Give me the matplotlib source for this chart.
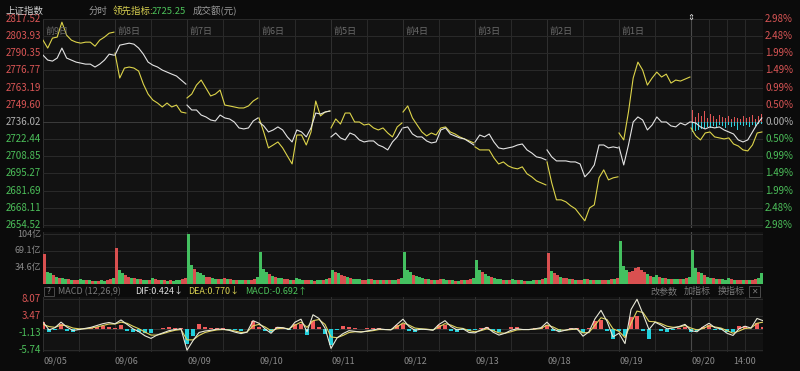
import numpy as np
import matplotlib
matplotlib.use("Agg")
import matplotlib.pyplot as plt

plt.rcParams['font.family'] = ['Noto Sans CJK SC', 'DejaVu Sans']

# ---- data ----
dates = ["09/05", "09/06", "09/09", "09/10", "09/11", "09/12", "09/13", "09/18", "09/19", "09/20"]
day_tags = ["前9日", "前8日", "前7日", "前6日", "前5日", "前4日", "前3日", "前2日", "前1日"]

price_ticks = [2817.52, 2803.93, 2790.35, 2776.77, 2763.19, 2749.60, 2736.02,
               2722.44, 2708.85, 2695.27, 2681.69, 2668.11, 2654.52]
pct_ticks = ["2.98%", "2.48%", "1.99%", "1.49%", "0.99%", "0.50%", "0.00%",
             "0.50%", "0.99%", "1.49%", "1.99%", "2.48%", "2.98%"]
base_price = 2736.02

# 上证指数 (white), 16 samples per day
index_line = [
    [2788.9, 2785.0, 2784.2, 2786.6, 2794.5, 2786.6, 2785.0, 2783.4, 2782.6, 2781.8, 2781.8, 2779.5, 2781.8, 2785.0, 2789.7, 2788.9],
    [2788.9, 2796.8, 2797.6, 2798.4, 2797.6, 2794.5, 2789.7, 2783.4, 2781.0, 2779.5, 2777.1, 2775.5, 2773.9, 2772.4, 2769.2, 2766.0],
    [2749.4, 2745.5, 2745.5, 2741.5, 2740.0, 2737.6, 2736.8, 2741.5, 2739.2, 2738.4, 2736.0, 2731.3, 2730.5, 2731.3, 2736.8, 2739.2],
    [2736.0, 2732.9, 2728.1, 2729.7, 2732.1, 2729.7, 2724.2, 2720.2, 2729.7, 2728.1, 2724.2, 2731.3, 2743.1, 2742.3, 2743.9, 2744.7],
    [2724.2, 2727.3, 2723.4, 2721.8, 2727.3, 2725.7, 2721.8, 2720.2, 2721.0, 2721.0, 2717.8, 2716.3, 2713.9, 2720.2, 2724.2, 2730.5],
    [2731.3, 2732.1, 2726.5, 2724.2, 2724.2, 2721.0, 2719.4, 2720.2, 2729.7, 2731.3, 2726.5, 2724.9, 2723.4, 2722.6, 2720.2, 2717.8],
    [2720.2, 2725.7, 2724.2, 2726.5, 2720.2, 2715.5, 2714.7, 2715.5, 2716.3, 2717.8, 2718.6, 2713.9, 2711.5, 2708.4, 2707.6, 2706.0],
    [2713.9, 2708.4, 2705.2, 2705.2, 2705.2, 2704.4, 2704.4, 2702.8, 2692.6, 2696.5, 2702.0, 2717.8, 2717.8, 2715.5, 2716.3, 2715.5],
    [2716.3, 2702.0, 2717.8, 2736.0, 2740.0, 2737.6, 2729.7, 2733.6, 2740.0, 2736.0, 2736.0, 2732.9, 2732.1, 2735.2, 2733.6, 2736.0],
    [2736.0, 2735.2, 2732.1, 2730.5, 2732.1, 2731.3, 2732.1, 2729.7, 2728.1, 2726.5, 2721.8, 2720.2, 2721.8, 2728.1, 2734.4, 2739.2],
]

# 领先指标 (yellow)
lead_line = [
    [2800.8, 2794.5, 2802.4, 2803.2, 2815.0, 2804.7, 2800.8, 2799.2, 2798.4, 2799.2, 2799.2, 2796.0, 2800.8, 2803.2, 2806.3, 2807.1],
    [2790.5, 2770.8, 2778.7, 2779.5, 2778.7, 2776.3, 2766.0, 2758.1, 2753.4, 2751.0, 2747.9, 2751.0, 2747.9, 2749.4, 2743.9, 2743.1],
    [2755.0, 2758.1, 2765.2, 2769.2, 2762.9, 2756.6, 2758.1, 2761.3, 2749.4, 2748.7, 2747.9, 2747.1, 2747.1, 2748.7, 2752.6, 2755.0],
    [2739.2, 2728.1, 2715.5, 2717.8, 2720.2, 2715.5, 2709.1, 2702.8, 2725.7, 2725.7, 2717.8, 2728.1, 2752.6, 2740.8, 2743.9, 2744.7],
    [2731.3, 2738.4, 2734.4, 2743.1, 2743.1, 2736.0, 2736.0, 2733.6, 2734.4, 2731.3, 2729.7, 2731.3, 2727.3, 2724.2, 2732.1, 2735.2],
    [2743.9, 2748.7, 2739.2, 2733.6, 2728.1, 2725.0, 2727.3, 2725.7, 2731.3, 2732.1, 2728.1, 2726.5, 2724.2, 2722.6, 2721.0, 2719.4],
    [2716.3, 2713.9, 2713.9, 2713.9, 2707.6, 2702.8, 2704.4, 2701.3, 2699.7, 2698.9, 2700.5, 2695.0, 2692.6, 2689.4, 2687.8, 2686.2],
    [2704.4, 2687.8, 2674.4, 2674.4, 2672.8, 2669.7, 2667.3, 2662.5, 2657.8, 2668.0, 2670.4, 2691.8, 2698.1, 2690.2, 2691.8, 2692.6],
    [2727.3, 2721.8, 2743.9, 2770.8, 2783.4, 2777.1, 2765.2, 2770.8, 2775.5, 2771.6, 2773.9, 2766.8, 2769.2, 2768.4, 2770.0, 2771.6],
    [2731.3, 2725.0, 2721.8, 2727.3, 2728.1, 2724.2, 2723.4, 2722.6, 2723.4, 2718.6, 2717.0, 2713.9, 2713.1, 2717.8, 2727.3, 2728.1],
]

# today's lead bars around the zero line (index points)
lead_up = [9.5, 4.0, 7.0, 4.7, 8.7, 3.2, 6.3, 4.7, 2.4, 5.5, 4.0, 3.2,
           4.7, 2.4, 4.0, 3.2, 2.4, 4.7, 3.2, 4.0, 5.5, 2.4, 4.7, 6.3]
lead_down = [7.9, 7.1, 6.3, 5.5, 4.7, 4.0, 4.7, 3.2, 4.0, 2.4, 3.2, 4.7,
             2.4, 4.0, 3.2, 6.3, 2.4, 3.2, 2.4, 4.0, 2.4, 3.2, 1.6, 1.6]

# 成交额 (亿), 24 bars per day
volume = [
    [62, 26, 22, 18, 15, 13, 12, 11, 10, 9, 9, 8, 11, 9, 8, 8, 7, 7, 7, 8, 7, 8, 10, 13],
    [75, 30, 22, 18, 15, 13, 12, 10, 10, 9, 9, 8, 12, 10, 9, 8, 8, 7, 8, 7, 8, 8, 10, 12],
    [104, 40, 32, 26, 22, 18, 15, 14, 12, 11, 10, 10, 13, 11, 10, 9, 9, 8, 8, 9, 8, 9, 11, 14],
    [66, 32, 25, 20, 17, 15, 13, 12, 11, 10, 9, 9, 12, 10, 9, 8, 8, 8, 7, 8, 8, 9, 10, 13],
    [29, 26, 22, 18, 16, 14, 12, 11, 10, 10, 9, 9, 11, 10, 9, 8, 8, 8, 8, 8, 8, 9, 10, 12],
    [66, 30, 24, 19, 16, 14, 12, 11, 10, 9, 9, 8, 11, 10, 9, 8, 8, 7, 7, 8, 8, 8, 10, 12],
    [50, 30, 24, 20, 16, 14, 12, 11, 10, 9, 9, 8, 11, 9, 8, 8, 7, 7, 7, 8, 8, 9, 10, 12],
    [64, 28, 22, 18, 15, 13, 12, 11, 10, 9, 9, 8, 11, 10, 9, 9, 8, 8, 8, 9, 9, 10, 11, 13],
    [89, 38, 30, 26, 28, 34, 36, 30, 24, 20, 17, 15, 18, 15, 13, 12, 11, 10, 10, 10, 10, 11, 12, 14],
    [70, 34, 26, 22, 18, 15, 13, 12, 11, 10, 10, 9, 12, 10, 9, 9, 8, 8, 8, 9, 9, 10, 12, 23],
]
volume_side = [
    "rggrgrggrgrrggrgrgrggrrg",
    "rggrrgrgrggrgrrgrgrgggrr",
    "ggrgggrrggrgrgrgrggrgrrg",
    "gggrgrggrrgrgggrrgrggrgr",
    "grgrrgrgggrrgrgrgrgrggrg",
    "gggrgggrgrgrrggrgrgrgrrg",
    "ggrggrgggrgrggrgrgggrgrg",
    "rgrrgrrgrgrrgrgrggrrgrgr",
    "gggrrrrrrgrggrgrgrggrgrg",
    "ggrgrggrgrgggrgrrgrgrrgg",
]

# MACD, 12 samples per day (+ close)
dif = [1.8, -0.3, 0.3, 1.8, 0.45, -0.45, -0.2, 0.1, 0.4, 0.9, 1.4, 1.7,
       1.35, 2.4, 1.2, 0.0, -0.8, -1.9, -2.6, -1.7, -1.1, -0.5, -0.2, 0.0,
       -5.8, -3.2, -1.0, -0.6, -0.4, -0.1, -0.1, -0.4, -0.9, -1.3, -0.9, 2.2,
       1.5, 0.0, -1.2, 0.4, 0.3, -0.2, 1.8, 2.6, -0.8, 3.8, 2.8, 0.2,
       -5.3, -2.5, -1.3, -0.5, -0.7, -0.9, -0.6, -0.3, 0.0, -0.2, -0.3, 1.2,
       2.6, 0.6, -0.4, -0.1, -0.2, -0.4, 1.2, 2.2, 0.6, -0.3, 0.0, -1.0,
       -1.1, -0.3, 0.4, -0.9, -1.7, -1.2, -0.4, 0.0, -0.2, -0.2, 0.0, 0.3,
       1.8, 0.0, -0.8, -0.4, 0.0, 0.0, -2.0, -0.8, 2.7, 5.0, 2.0, -2.2,
       -1.2, -4.0, 5.2, 8.0, 4.0, -0.2, 1.8, 1.0, 0.0, 0.2, 0.6, 1.2,
       -0.5, -0.8, 0.5, 1.5, 0.3, 0.0, -1.2, -1.8, 0.0, 0.7, 0.2, 2.8, 2.2]
dea = [1.2, 0.6, 0.4, 1.0, 0.8, 0.2, 0.0, 0.0, 0.2, 0.5, 0.9, 1.3,
       1.3, 1.8, 1.5, 0.7, 0.0, -0.9, -1.7, -1.7, -1.3, -0.8, -0.4, -0.2,
       -3.0, -3.0, -1.8, -1.0, -0.6, -0.3, -0.2, -0.3, -0.6, -1.0, -0.9, 0.8,
       1.2, 0.5, -0.5, 0.0, 0.2, 0.0, 1.0, 1.8, 0.4, 2.2, 2.5, 1.2,
       -2.2, -2.4, -1.8, -1.0, -0.8, -0.8, -0.7, -0.5, -0.2, -0.2, -0.2, 0.5,
       1.6, 1.0, 0.2, 0.0, -0.1, -0.3, 0.5, 1.4, 1.0, 0.3, 0.1, -0.5,
       -0.8, -0.5, 0.0, -0.5, -1.1, -1.2, -0.8, -0.3, -0.2, -0.2, -0.1, 0.1,
       1.0, 0.5, -0.3, -0.4, -0.2, -0.1, -1.1, -1.0, 1.0, 3.0, 2.5, 0.0,
       -0.7, -2.4, 1.5, 4.8, 4.4, 2.0, 1.9, 1.4, 0.7, 0.4, 0.5, 0.9,
       0.2, -0.3, 0.1, 0.8, 0.5, 0.2, -0.5, -1.2, -0.6, 0.1, 0.2, 1.5, 1.8]
macd_hist = [1.8, -0.9, -0.2, 1.2, -0.5, -0.9, -0.3, 0.2, 0.3, 0.6, 0.7, 0.6,
             0.3, 0.9, -0.6, -1.0, -1.0, -1.2, -1.2, 0.0, 0.3, 0.4, 0.3, 0.3,
             -4.0, -2.0, 1.2, 0.6, 0.3, 0.3, 0.2, -0.2, -0.4, -0.5, 0.0, 2.0,
             0.6, -0.6, -1.0, 0.5, 0.2, -0.3, 1.2, 1.2, -1.6, 2.2, 0.4, -1.4,
             -4.5, -0.2, 0.7, 0.6, 0.2, -0.1, 0.1, 0.2, 0.3, 0.0, -0.1, 1.0,
             1.3, -0.5, -0.8, -0.2, -0.1, -0.2, 0.9, 1.1, -0.5, -0.8, -0.2, -0.7,
             -0.4, 0.3, 0.5, -0.5, -0.8, 0.0, 0.5, 0.4, 0.0, 0.0, 0.1, 0.3,
             1.1, -0.6, -0.7, 0.0, 0.3, 0.1, -1.2, 0.2, 2.2, 2.5, -0.6, -2.8,
             -0.7, -2.0, 3.2, 3.5, -0.5, -2.8, -0.1, -0.5, -0.9, -0.3, 0.2, 0.4,
             -0.9, -0.6, 0.5, 0.9, -0.3, -0.3, -0.9, -0.8, 0.8, 0.8, 0.0, 1.6, 0.5]
macd_ticks = [8.07, 3.47, -1.13, -5.74]
vol_ticks = [104, 69.1, 34.6]
vol_labels = ["104亿", "69.1亿", "34.6亿"]

# ---- figure ----
W, H = 800, 371
BG = "#0b0b0b"
PANEL = "#121212"
GRID = "#2a2a2a"
RED = "#d95555"
GREEN = "#4cbf5a"
GRAY = "#8a8a8a"


def box(x0, y0, x1, y1):
    return [x0 / W, 1 - y1 / H, (x1 - x0) / W, (y1 - y0) / H]


def ftext(x, y, s, **kw):
    kw.setdefault("va", "center")
    kw.setdefault("fontsize", 6.5)
    fig.text(x / W, 1 - y / H, s, **kw)


fig = plt.figure(figsize=(8, 3.71), dpi=100, facecolor=BG)
ax = fig.add_axes(box(43, 19, 763, 228))
axv = fig.add_axes(box(43, 232, 763, 284))
axm = fig.add_axes(box(43, 297, 763, 352))

ndays = len(dates)
for a in (ax, axv, axm):
    a.set_facecolor(PANEL)
    a.set_xlim(0, ndays)
    a.set_xticks([])
    a.set_yticks([])
    for s in a.spines.values():
        s.set_visible(False)
    # vertical grid: half days, quarter for today
    for v in np.arange(0, ndays - 1 + 0.01, 0.5):
        a.axvline(v, color="#303030" if v % 1 == 0 else GRID, lw=0.7, zorder=0)
    for v in [9.25, 9.5, 9.75]:
        a.axvline(v, color=GRID, lw=0.7, zorder=0)
    a.axvline(9, color="#4a4a4a", lw=0.8, zorder=0)

# main panel
ax.set_ylim(2652.1, 2817.52)
for p in price_ticks:
    ax.axhline(p, color="#3c3c3c" if p == base_price else GRID, lw=0.7, zorder=0)

for d in range(ndays):
    xs = d + np.arange(16) / 15 * 0.985
    ax.plot(xs, lead_line[d], color="#ddd44a", lw=0.8, zorder=3)
    ax.plot(xs, index_line[d], color="#e4e4e4", lw=0.8, zorder=4)

bx = 9 + (np.arange(24) + 0.5) / 24
ax.bar(bx, lead_up, width=0.45 / 24, bottom=base_price, color="#e05555", zorder=2)
ax.bar(bx, [-v for v in lead_down], width=0.6 / 24, bottom=base_price, color="#2fd3e0", zorder=2)

for i, p in enumerate(price_ticks):
    y = 19 + (2817.52 - p) / (2817.52 - 2652.1) * 209
    c = RED if p > base_price else (GREEN if p < base_price else "#b0b0b0")
    ftext(41, y, f"{p:.2f}", ha="right", color=c, fontsize=7)
    ftext(765, y, pct_ticks[i], ha="left", color=c, fontsize=7)

for d, tag in enumerate(day_tags):
    ax.text(d + 0.03, 2808, tag, color="#6a6a6a", fontsize=6.5, va="center")

# today marker
ftext(691, 17, "⇕", ha="center", color="#dddddd", fontsize=6)

# header
ftext(5, 11, "上证指数", color="#cfcfcf", fontsize=6.8)
ftext(89, 11, "分时", color="#9a9a9a", fontsize=6.8)
ftext(113, 11, "领先指标:", color="#d8d050", fontsize=6.8)
ftext(152, 11, "2725.25", color="#4cc25a", fontsize=6.8)
ftext(193, 11, "成交额(元)", color="#9a9a9a", fontsize=6.8)

# volume panel
axv.set_ylim(0, 108.2)
for t in vol_ticks:
    axv.axhline(t, color=GRID, lw=0.7, zorder=0)
for d in range(ndays):
    xs = d + (np.arange(24) + 0.5) / 24
    cols = ["#d95050" if c == "r" else "#44c060" for c in volume_side[d]]
    axv.bar(xs, volume[d], width=0.75 / 24, color=cols, zorder=2)
for t, lab in zip(vol_ticks, vol_labels):
    y = 284 - t / 108.2 * 52
    ftext(41, y, lab, ha="right", color=GRAY, fontsize=6.5)

# MACD header
fig.patches.append(plt.Rectangle((44 / W, 1 - 296 / H), 10 / W, 9 / H, transform=fig.transFigure,
                                 fill=False, edgecolor="#555555", lw=0.6))
ftext(49, 291.5, "?", ha="center", color=GRAY, fontsize=6)
ftext(58, 291.5, "MACD (12,26,9)", color="#7a7a7a")
ftext(135, 291.5, "DIF:0.424↓", color="#dddddd")
ftext(188, 291.5, "DEA:0.770↓", color="#d8d050")
ftext(245, 291.5, "MACD:-0.692↑", color="#4cc25a")
ftext(650, 291.5, "改参数", color="#7a7a7a")
ftext(684, 291.5, "加指标", color="#7a7a7a")
ftext(718, 291.5, "换指标", color="#7a7a7a")
fig.patches.append(plt.Rectangle((749 / W, 1 - 297 / H), 11 / W, 11 / H, transform=fig.transFigure,
                                 fill=False, edgecolor="#555555", lw=0.6))
ftext(754.5, 291.5, "✕", ha="center", color="#7a7a7a", fontsize=5.5)

# MACD panel
mlo, mhi = -6.28, 8.61
axm.set_ylim(mlo, mhi)
for t in macd_ticks:
    axm.axhline(t, color=GRID, lw=0.7, zorder=0)
axm.axhline(0, color="#3a3a3a", lw=0.6, zorder=1)
mx = np.arange(len(dif)) / 12
hist_cols = ["#f05a5a" if v > 0 else "#22d0dc" for v in macd_hist]
axm.bar(mx, macd_hist, width=0.65 / 12, color=hist_cols, zorder=2)
axm.plot(mx, dea, color="#e0d460", lw=0.8, zorder=3)
axm.plot(mx, dif, color="#e8e8d8", lw=0.8, zorder=4)
for t in macd_ticks:
    y = 297 + (mhi - t) / (mhi - mlo) * 55
    ftext(41, y, f"{t:.2f}", ha="right", color=RED if t > 0 else GREEN, fontsize=7)

# date axis
for d, lab in enumerate(dates):
    ftext(43 + 72 * d, 361, lab, color=GRAY)
ftext(745, 361, "14:00", ha="center", color=GRAY)

fig.savefig("out.png", dpi=100, facecolor=BG)
